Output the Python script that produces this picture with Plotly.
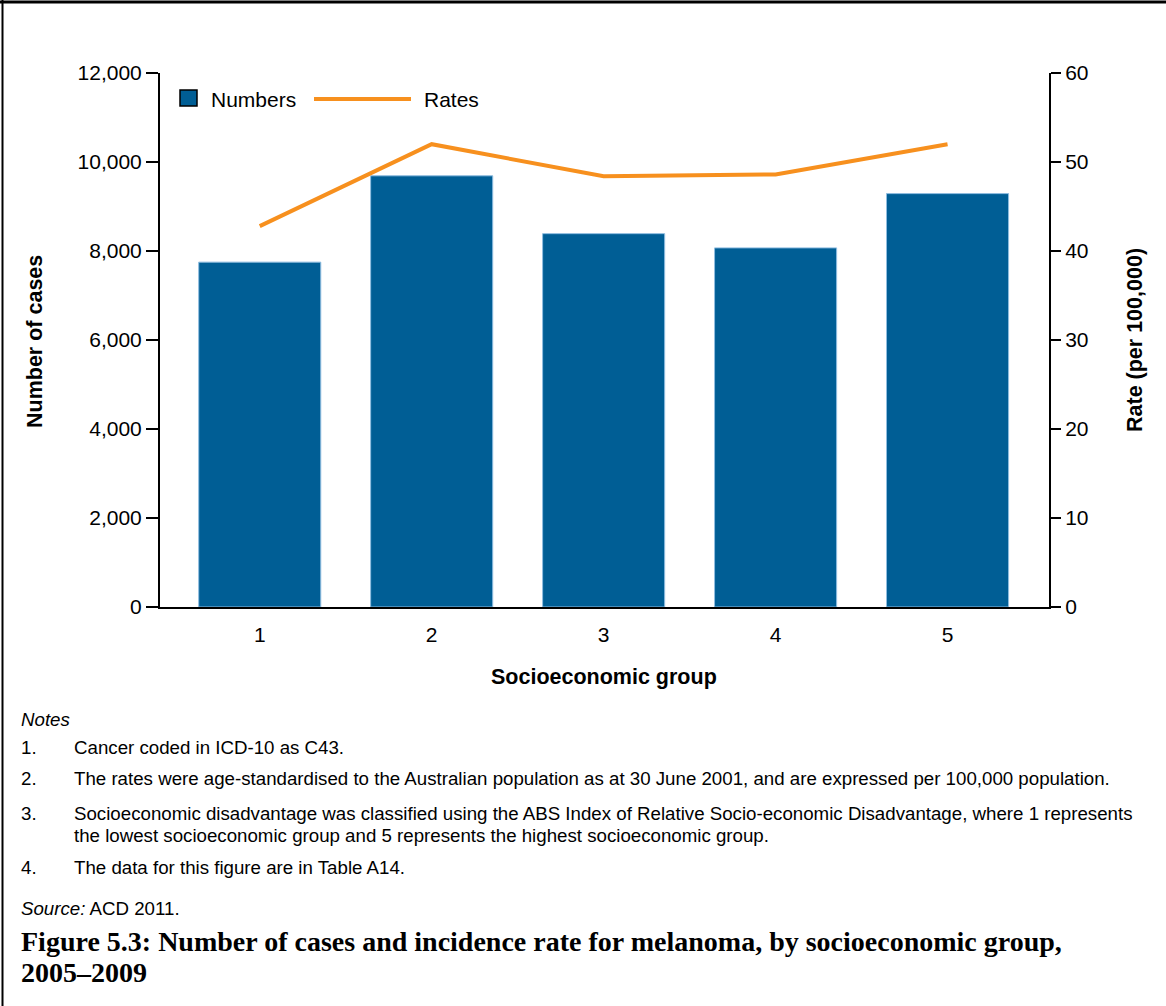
import plotly.graph_objects as go

# Melanoma, number of cases and incidence rate by socioeconomic group, 2005-2009
groups = [1, 2, 3, 4, 5]
numbers = [7750, 9690, 8390, 8070, 9290]
rates = [42.8, 52.0, 48.4, 48.6, 52.0]

notes = [
    ("1.", ["Cancer coded in ICD-10 as C43."]),
    ("2.", ["The rates were age-standardised to the Australian population as at 30 June 2001, and are expressed per 100,000 population."]),
    ("3.", ["Socioeconomic disadvantage was classified using the ABS Index of Relative Socio-economic Disadvantage, where 1 represents",
            "the lowest socioeconomic group and 5 represents the highest socioeconomic group."]),
    ("4.", ["The data for this figure are in Table A14."]),
]
note_rows = [747, 778, 813, 867]
line_gap = 22

W, H = 1166, 1006
L, R, T, B = 160, 1049, 73, 607

SANS = "Liberation Sans, Arial, sans-serif"
SERIF = "Liberation Serif, Times New Roman, serif"
BLUE = "#005e95"
ORANGE = "#f7901e"
NOTE_SIZE = 18.7


def px(x):
    return (x - L) / (R - L)


def py(y):
    return (B - y) / (B - T)


fig = go.Figure()
fig.add_trace(go.Bar(
    x=groups, y=numbers, name="Numbers", width=0.71,
    marker=dict(color=BLUE, line=dict(color="#8fbde0", width=1)),
))
fig.add_trace(go.Scatter(
    x=groups, y=rates, name="Rates", yaxis="y2", mode="lines",
    line=dict(color=ORANGE, width=4),
))

ann = []
ann.append(dict(text="<b>Number of cases</b>", x=px(35), y=py(342), textangle=-90,
                font=dict(size=21.5)))
ann.append(dict(text="<b>Rate (per 100,000)</b>", x=px(1135), y=py(340), textangle=-90,
                font=dict(size=21.5)))
ann.append(dict(text="<b>Socioeconomic group</b>", x=px(604), y=py(677),
                font=dict(size=21.5)))
# legend drawn by hand so the symbol sizes match
ann.append(dict(text="Numbers", x=px(209), y=py(99), xanchor="left", font=dict(size=21)))
ann.append(dict(text="Rates", x=px(422), y=py(99), xanchor="left", font=dict(size=21)))

ann.append(dict(text="<i>Notes</i>", x=px(19), y=py(719), xanchor="left",
                font=dict(size=NOTE_SIZE)))
for (num, lines), row in zip(notes, note_rows):
    ann.append(dict(text=num, x=px(19), y=py(row), xanchor="left", font=dict(size=NOTE_SIZE)))
    for i, txt in enumerate(lines):
        ann.append(dict(text=txt, x=px(72), y=py(row + i * line_gap), xanchor="left",
                        font=dict(size=NOTE_SIZE)))
ann.append(dict(text="<i>Source:</i> ACD 2011.", x=px(19), y=py(908), xanchor="left",
                font=dict(size=NOTE_SIZE)))
ann.append(dict(text="<b>Figure 5.3: Number of cases and incidence rate for melanoma, by socioeconomic group,</b>",
                x=px(19), y=py(941), xanchor="left", font=dict(size=28, family=SERIF)))
ann.append(dict(text="<b>2005–2009</b>",
                x=px(19), y=py(972), xanchor="left", font=dict(size=28, family=SERIF)))
for a in ann:
    a.update(xref="paper", yref="paper", showarrow=False, yanchor="middle")
    a.setdefault("xanchor", "center")
    a["font"].setdefault("family", SANS)
    a["font"].setdefault("color", "black")

shapes = [
    dict(type="line", xref="paper", yref="paper", x0=px(0), x1=px(W),
         y0=py(2), y1=py(2), line=dict(color="black", width=3)),
    dict(type="line", xref="paper", yref="paper", x0=px(2.5), x1=px(2.5),
         y0=py(0), y1=py(H), line=dict(color="black", width=2)),
    dict(type="rect", xref="paper", yref="paper", x0=px(180), x1=px(197),
         y0=py(106), y1=py(90), fillcolor=BLUE, line=dict(color="black", width=1.5)),
    dict(type="line", xref="paper", yref="paper", x0=px(314), x1=px(411),
         y0=py(99), y1=py(99), line=dict(color=ORANGE, width=4)),
]

fig.update_layout(
    width=W, height=H,
    margin=dict(l=L, r=W - R, t=T, b=H - B, pad=0),
    paper_bgcolor="white", plot_bgcolor="white",
    font=dict(family=SANS, size=21, color="black"),
    showlegend=False,
    xaxis=dict(range=[0.42, 5.59], tickvals=groups, ticks="", showline=True,
               linecolor="black", linewidth=2, showgrid=False, zeroline=False,
               tickfont=dict(size=21), ticklabelstandoff=8),
    yaxis=dict(range=[0, 12000], dtick=2000, tickformat=",", showline=True,
               linecolor="black", linewidth=2, ticks="outside", ticklen=12,
               tickwidth=2, tickcolor="black", showgrid=False, zeroline=False,
               tickfont=dict(size=21)),
    yaxis2=dict(range=[0, 60], dtick=10, overlaying="y", side="right",
                showline=True, linecolor="black", linewidth=2, ticks="outside",
                ticklen=10, tickwidth=2, tickcolor="black", showgrid=False,
                zeroline=False, tickfont=dict(size=21)),
    annotations=ann,
    shapes=shapes,
)

fig.write_html("out.html", config={"displayModeBar": False},
               post_script="document.body.style.margin='0';")
